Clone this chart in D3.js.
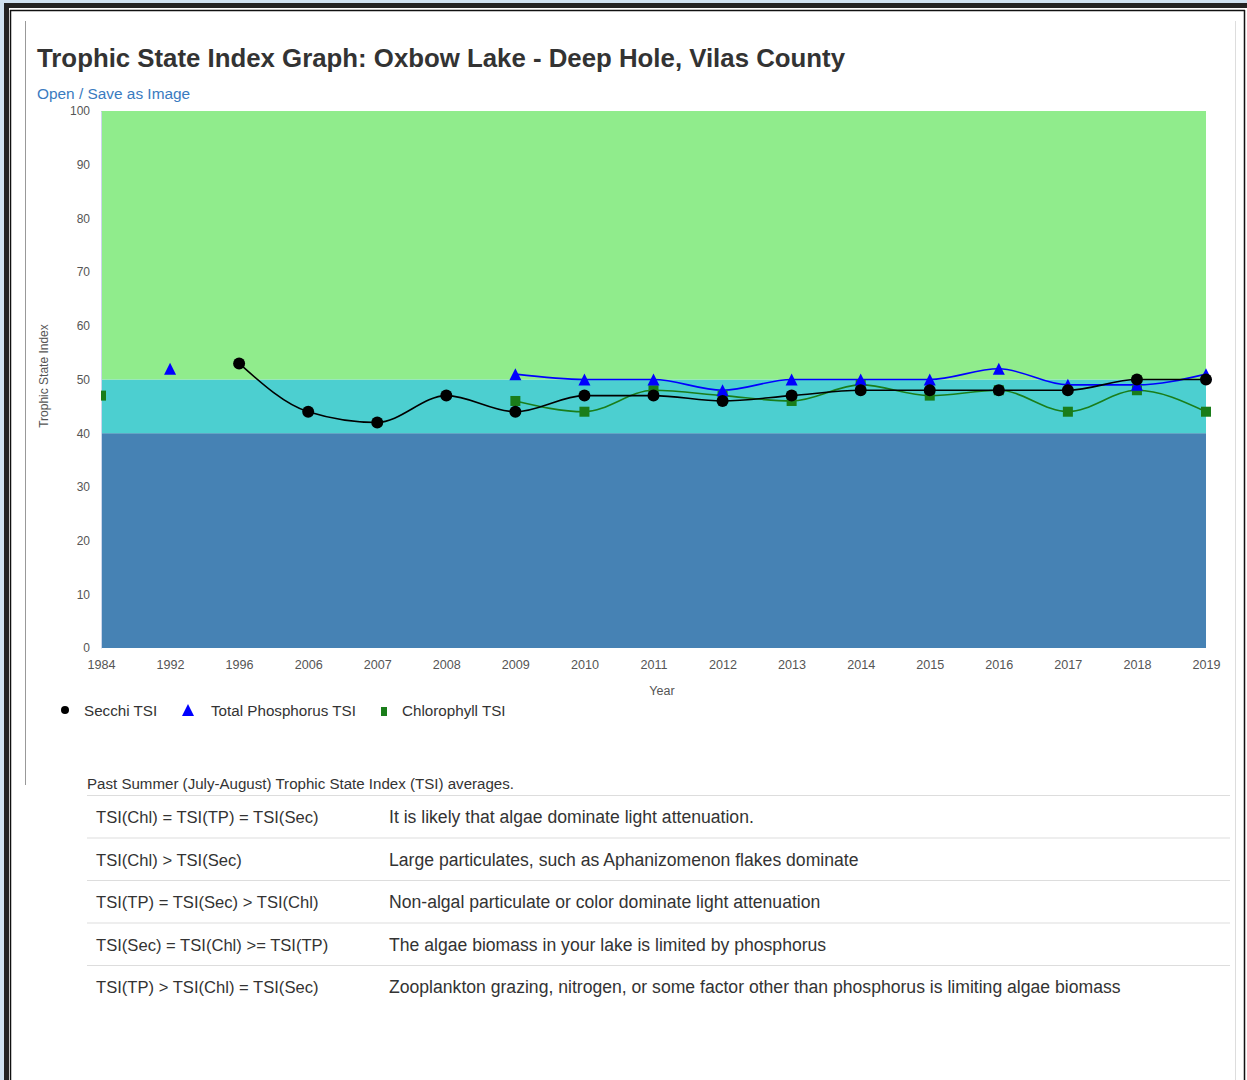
<!DOCTYPE html>
<html>
<head>
<meta charset="utf-8">
<script src="https://cdn.jsdelivr.net/npm/d3@7"></script>
<style>
  html, body { margin: 0; padding: 0; background: #fff; }
  svg { display: block; font-family: "Liberation Sans", Arial, Helvetica, sans-serif; }
</style>
</head>
<body>
<svg id="page" width="1247" height="1080"></svg>
<script>
// Sampling years shown as categories on the x axis
const years = ["1984", "1992", "1996", "2006", "2007", "2008", "2009", "2010", "2011",
               "2012", "2013", "2014", "2015", "2016", "2017", "2018", "2019"];

// Summer TSI averages per year (null = no sample that year)
const secchiTSI      = [null, null, 53, 44, 42, 47, 44, 47, 47, 46, 47, 48, 48, 48, 48, 50, 50];
const phosphorusTSI  = [null, 52, null, null, null, null, 51, 50, 50, 48, 50, 50, 50, 52, 49, 49, 51];
const chlorophyllTSI = [47, null, null, null, null, null, 46, 44, 48, 47, 46, 49, 47, 48, 44, 48, 44];

// Y axis ticks
const yTicks = [0, 10, 20, 30, 40, 50, 60, 70, 80, 90, 100];

// Trophic state bands (lower and upper TSI bound)
const bandFrom = [0, 40, 50];
const bandTo   = [40, 50, 100];

// Interpretation table
const tableLeft = ["TSI(Chl) = TSI(TP) = TSI(Sec)", "TSI(Chl) > TSI(Sec)", "TSI(TP) = TSI(Sec) > TSI(Chl)",
                   "TSI(Sec) = TSI(Chl) >= TSI(TP)", "TSI(TP) > TSI(Chl) = TSI(Sec)"];
const tableRight = ["It is likely that algae dominate light attenuation.",
                    "Large particulates, such as Aphanizomenon flakes dominate",
                    "Non-algal particulate or color dominate light attenuation",
                    "The algae biomass in your lake is limited by phosphorus",
                    "Zooplankton grazing, nitrogen, or some factor other than phosphorus is limiting algae biomass"];

const bandColors = ["#4682b4", "#4ccfd0", "#90ec8c"];

const svg = d3.select("#page");

// ---- window frame ----
svg.append("rect").attr("x", 0).attr("y", 0).attr("width", 1247).attr("height", 1080).attr("fill", "#fff");
svg.append("rect").attr("x", 0).attr("y", 0).attr("width", 1247).attr("height", 3).attr("fill", "#cfe1f0");
svg.append("rect").attr("x", 0).attr("y", 0).attr("width", 4).attr("height", 1080).attr("fill", "#cfe1f0");
svg.append("rect").attr("x", 4).attr("y", 3).attr("width", 1243).attr("height", 5).attr("fill", "#222");
svg.append("rect").attr("x", 4).attr("y", 3).attr("width", 5).attr("height", 1077).attr("fill", "#222");
svg.append("line").attr("x1", 10.5).attr("x2", 10.5).attr("y1", 10).attr("y2", 1080).attr("stroke", "#111").attr("stroke-width", 1.5);
svg.append("line").attr("x1", 10).attr("x2", 1245).attr("y1", 10.5).attr("y2", 10.5).attr("stroke", "#111").attr("stroke-width", 1.5);
svg.append("line").attr("x1", 1244.5).attr("x2", 1244.5).attr("y1", 10).attr("y2", 1080).attr("stroke", "#111").attr("stroke-width", 1.5);
// inner panel edges
svg.append("line").attr("x1", 25.5).attr("x2", 25.5).attr("y1", 21).attr("y2", 785).attr("stroke", "#999").attr("stroke-width", 1);
svg.append("line").attr("x1", 1235.5).attr("x2", 1235.5).attr("y1", 21).attr("y2", 1080).attr("stroke", "#ddd").attr("stroke-width", 1);

// ---- title ----
svg.append("text").attr("x", 37).attr("y", 67)
  .attr("font-size", 25.8).attr("font-weight", "bold").attr("fill", "#333")
  .text("Trophic State Index Graph: Oxbow Lake - Deep Hole, Vilas County");
svg.append("text").attr("x", 37).attr("y", 99)
  .attr("font-size", 15.4).attr("fill", "#3a7bbf")
  .text("Open / Save as Image");

// ---- chart ----
const x = d3.scalePoint().domain(years).range([101, 1206]);
const y = d3.scaleLinear().domain([0, 100]).range([648, 111]);

// markers are clipped at the left edge of the plot
svg.append("defs").append("clipPath").attr("id", "plot-clip")
  .append("rect").attr("x", x.range()[0]).attr("y", 0).attr("width", 1247 - x.range()[0]).attr("height", 1080);

const plot = svg.append("g");
plot.selectAll("rect.band")
  .data(bandFrom.map((f, i) => ({ from: f, to: bandTo[i], color: bandColors[i] })))
  .join("rect")
  .attr("class", "band")
  .attr("x", x.range()[0])
  .attr("width", x.range()[1] - x.range()[0])
  .attr("y", d => y(d.to))
  .attr("height", d => y(d.from) - y(d.to))
  .attr("fill", d => d.color);

// axes
const yAxis = svg.append("g").attr("transform", `translate(${x.range()[0]},0)`)
  .call(d3.axisLeft(y).tickValues(yTicks).tickSize(0).tickPadding(11));
yAxis.select(".domain").attr("stroke", "#ccd6eb");
yAxis.selectAll("text").attr("font-size", 12).attr("fill", "#555").attr("font-family", "Liberation Sans, Arial, sans-serif");

const xAxis = svg.append("g").attr("transform", `translate(0,${y(0)})`)
  .call(d3.axisBottom(x).tickSize(0).tickPadding(12));
xAxis.select(".domain").remove();
xAxis.selectAll("text").attr("font-size", 12.6).attr("fill", "#555").attr("font-family", "Liberation Sans, Arial, sans-serif");

svg.append("text").attr("x", 662).attr("y", 695).attr("text-anchor", "middle")
  .attr("font-size", 12.5).attr("fill", "#555").text("Year");
svg.append("text").attr("transform", "translate(48,376) rotate(-90)").attr("text-anchor", "middle")
  .attr("font-size", 12).attr("fill", "#555").text("Trophic State Index");

// series
const series = [
  { name: "Chlorophyll TSI", values: chlorophyllTSI, color: "#1a7d1a", symbol: "square" },
  { name: "Total Phosphorus TSI", values: phosphorusTSI, color: "#0000ff", symbol: "triangle" },
  { name: "Secchi TSI", values: secchiTSI, color: "#000000", symbol: "circle" }
];

function drawMarker(g, sym, cx, cy, color) {
  if (sym === "circle") {
    g.append("circle").attr("cx", cx).attr("cy", cy).attr("r", 6).attr("fill", color);
  } else if (sym === "triangle") {
    const h = 6;
    g.append("path").attr("d", `M${cx},${cy - h}L${cx + h},${cy + h}L${cx - h},${cy + h}Z`).attr("fill", color);
  } else {
    const h = 5;
    g.append("rect").attr("x", cx - h).attr("y", cy - h).attr("width", 2 * h).attr("height", 2 * h).attr("fill", color);
  }
}

const line = d3.line()
  .defined(d => d.v !== null)
  .x(d => x(d.year))
  .y(d => y(d.v))
  .curve(d3.curveMonotoneX);

series.forEach(s => {
  const pts = years.map((yr, i) => ({ year: yr, v: s.values[i] }));
  svg.append("path").datum(pts).attr("d", line)
    .attr("fill", "none").attr("stroke", s.color).attr("stroke-width", 1.6);
});
series.forEach(s => {
  const g = svg.append("g").attr("clip-path", "url(#plot-clip)");
  years.forEach((yr, i) => {
    if (s.values[i] !== null) drawMarker(g, s.symbol, x(yr), y(s.values[i]), s.color);
  });
});

// legend
const legend = svg.append("g");
const legendItems = [
  { label: "Secchi TSI", color: "#000", symbol: "circle", mx: 65, tx: 84 },
  { label: "Total Phosphorus TSI", color: "#0000ff", symbol: "triangle", mx: 188, tx: 211 },
  { label: "Chlorophyll TSI", color: "#1a7d1a", symbol: "square", mx: 384, tx: 402 }
];
legendItems.forEach(it => {
  if (it.symbol === "circle") legend.append("circle").attr("cx", it.mx).attr("cy", 710).attr("r", 4).attr("fill", it.color);
  else if (it.symbol === "triangle") legend.append("path").attr("d", `M${it.mx},${704}L${it.mx + 6},${716}L${it.mx - 6},${716}Z`).attr("fill", it.color);
  else legend.append("rect").attr("x", it.mx - 3).attr("y", 707).attr("width", 6).attr("height", 9).attr("fill", it.color);
  legend.append("text").attr("x", it.tx).attr("y", 716).attr("font-size", 15.2).attr("fill", "#333").text(it.label);
});

// ---- table ----
svg.append("text").attr("x", 87).attr("y", 789).attr("font-size", 15.1).attr("fill", "#333")
  .text("Past Summer (July-August) Trophic State Index (TSI) averages.");
svg.append("line").attr("x1", 87).attr("x2", 1230).attr("y1", 795.5).attr("y2", 795.5).attr("stroke", "#ddd");
const rowTop = d3.scaleLinear().domain([0, 1]).range([796, 838.5]);
tableLeft.forEach((t, i) => {
  const top = rowTop(i);
  svg.append("text").attr("x", 96).attr("y", top + 27).attr("font-size", 16.6).attr("fill", "#333").text(t);
  svg.append("text").attr("x", 389).attr("y", top + 27).attr("font-size", 17.6).attr("fill", "#333").text(tableRight[i]);
  if (i < tableLeft.length - 1) {
    svg.append("line").attr("x1", 87).attr("x2", 1230).attr("y1", rowTop(i + 1) - 0.5).attr("y2", rowTop(i + 1) - 0.5).attr("stroke", "#ddd");
  }
});
</script>
</body>
</html>
